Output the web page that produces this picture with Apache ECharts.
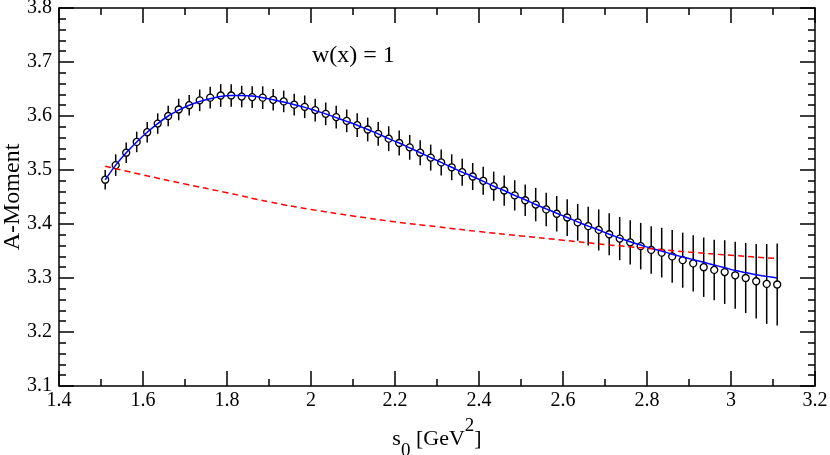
<!DOCTYPE html>
<html>
<head>
<meta charset="utf-8">
<script src="https://cdn.jsdelivr.net/npm/echarts@6/dist/echarts.min.js"></script>
<style>
  html, body { margin: 0; padding: 0; background: #fff; }
  #main { width: 830px; height: 455px; }
</style>
</head>
<body>
<div id="main"></div>
<script>
// s0 values of the data points
var sVals = [1.51, 1.535, 1.56, 1.585, 1.61, 1.635, 1.66, 1.685, 1.71, 1.735,
    1.76, 1.785, 1.81, 1.835, 1.86, 1.885, 1.91, 1.935, 1.96, 1.985,
    2.01, 2.035, 2.06, 2.085, 2.11, 2.135, 2.16, 2.185, 2.21, 2.235,
    2.26, 2.285, 2.31, 2.335, 2.36, 2.385, 2.41, 2.435, 2.46, 2.485,
    2.51, 2.535, 2.56, 2.585, 2.61, 2.635, 2.66, 2.685, 2.71, 2.735,
    2.76, 2.785, 2.81, 2.835, 2.86, 2.885, 2.91, 2.935, 2.96, 2.985,
    3.01, 3.035, 3.06, 3.085, 3.11];
// A-Moment (circles)
var momentVals = [3.482, 3.509, 3.532, 3.552, 3.570, 3.586, 3.600, 3.612, 3.620, 3.629,
    3.634, 3.638, 3.638, 3.636, 3.635, 3.634, 3.630, 3.627, 3.621, 3.617,
    3.611, 3.604, 3.598, 3.591, 3.583, 3.575, 3.567, 3.558, 3.550, 3.542,
    3.532, 3.523, 3.514, 3.505, 3.496, 3.488, 3.480, 3.470, 3.462, 3.453,
    3.444, 3.436, 3.427, 3.419, 3.412, 3.403, 3.396, 3.389, 3.381, 3.373,
    3.366, 3.359, 3.352, 3.347, 3.340, 3.333, 3.327, 3.320, 3.315, 3.311,
    3.305, 3.300, 3.294, 3.289, 3.288];
// error bar half widths
var errVals = [0.018, 0.020, 0.019, 0.019, 0.019, 0.019, 0.019, 0.020, 0.019, 0.020,
    0.020, 0.021, 0.021, 0.020, 0.020, 0.021, 0.020, 0.020, 0.020, 0.021,
    0.021, 0.021, 0.021, 0.021, 0.022, 0.022, 0.022, 0.023, 0.023, 0.023,
    0.023, 0.024, 0.024, 0.024, 0.025, 0.025, 0.026, 0.027, 0.028, 0.028,
    0.029, 0.031, 0.031, 0.033, 0.034, 0.034, 0.036, 0.038, 0.039, 0.040,
    0.041, 0.043, 0.044, 0.046, 0.049, 0.051, 0.052, 0.055, 0.056, 0.059,
    0.062, 0.065, 0.069, 0.074, 0.076];
// blue curve
var fitVals = [3.482, 3.509, 3.532, 3.552, 3.570, 3.586, 3.600, 3.611, 3.620, 3.627,
    3.632, 3.636, 3.638, 3.638, 3.637, 3.634, 3.630, 3.626, 3.621, 3.616,
    3.610, 3.604, 3.597, 3.590, 3.583, 3.575, 3.567, 3.558, 3.550, 3.541,
    3.532, 3.523, 3.514, 3.505, 3.496, 3.488, 3.479, 3.470, 3.462, 3.453,
    3.445, 3.436, 3.428, 3.420, 3.412, 3.404, 3.396, 3.389, 3.381, 3.374,
    3.367, 3.361, 3.355, 3.350, 3.344, 3.339, 3.334, 3.329, 3.324, 3.319,
    3.314, 3.310, 3.306, 3.303, 3.300];
// red dashed curve
var redS = [1.51, 1.6, 1.7, 1.8, 1.9, 2.0, 2.1, 2.2, 2.3, 2.4, 2.5, 2.6, 2.7, 2.8, 2.9, 3.0, 3.11];
var redVals = [3.507, 3.491, 3.474, 3.458, 3.441, 3.427, 3.415, 3.404, 3.395, 3.386,
    3.378, 3.370, 3.362, 3.355, 3.348, 3.342, 3.336];

var FONT = 'Liberation Serif, Times New Roman, serif';

var pts = [], bars = [], fit = [], red = [];
for (var i = 0; i < sVals.length; i++) {
    pts.push([sVals[i], momentVals[i]]);
    bars.push([sVals[i], momentVals[i], errVals[i]]);
    fit.push([sVals[i], fitVals[i]]);
}
for (var j = 0; j < redS.length; j++) {
    red.push([redS[j], redVals[j]]);
}

function axisBase(min, max, step, minorSplit) {
    return {
        type: 'value',
        min: min,
        max: max,
        interval: step,
        axisLine: { show: true, onZero: false, lineStyle: { color: '#000', width: 1.5 } },
        axisTick: { show: true, inside: true, length: 15, lineStyle: { color: '#000', width: 1.5 } },
        minorTick: { show: true, splitNumber: minorSplit, length: 7, lineStyle: { color: '#000', width: 1.5 } },
        splitLine: { show: false },
        minorSplitLine: { show: false },
        axisLabel: {
            color: '#000', fontFamily: FONT, fontSize: 20,
            formatter: function (v) { return String(+v.toFixed(1)); }
        }
    };
}

var xBottom = axisBase(1.4, 3.2, 0.2, 2);
xBottom.position = 'bottom';
xBottom.axisLabel.margin = 5;
var xTop = axisBase(1.4, 3.2, 0.2, 2);
xTop.position = 'top';
xTop.axisLabel = { show: false };

var yLeft = axisBase(3.1, 3.8, 0.1, 5);
yLeft.position = 'left';
yLeft.axisLabel.margin = 7;
var yRight = axisBase(3.1, 3.8, 0.1, 5);
yRight.position = 'right';
yRight.axisLabel = { show: false };

var myChart = echarts.init(document.getElementById('main'));
var option = {
    animation: false,
    backgroundColor: '#fff',
    grid: { left: 59, right: 15, top: 8, bottom: 69, containLabel: false, outerBoundsMode: 'none' },
    xAxis: [xBottom, xTop],
    yAxis: [yLeft, yRight],
    graphic: [
        {
            type: 'text',
            left: 312,
            top: 44,
            style: { text: 'w(x) = 1', fontFamily: FONT, fontSize: 24, fill: '#000' }
        },
        {
            // y axis title
            type: 'text',
            x: 13,
            y: 197,
            rotation: Math.PI / 2,
            style: {
                text: 'A-Moment', fontFamily: FONT, fontSize: 24, fill: '#000',
                align: 'center', verticalAlign: 'middle'
            }
        },
        {
            // x axis title
            type: 'text',
            x: 437,
            y: 439,
            style: {
                text: '{m|s}{sub|0}{m| [GeV}{sup|2}{m|]}',
                fontFamily: FONT, fontSize: 22, fill: '#000',
                align: 'center', verticalAlign: 'middle',
                rich: {
                    m: { fontFamily: FONT, fontSize: 22, fill: '#000', lineHeight: 44 },
                    sub: { fontFamily: FONT, fontSize: 19, fill: '#000', lineHeight: 22, verticalAlign: 'bottom' },
                    sup: { fontFamily: FONT, fontSize: 19, fill: '#000', lineHeight: 10, verticalAlign: 'top' }
                }
            }
        }
    ],
    series: [
        {
            name: 'err',
            type: 'custom',
            xAxisIndex: 0,
            yAxisIndex: 0,
            data: bars,
            z: 2,
            renderItem: function (params, api) {
                var x = api.value(0), y = api.value(1), e = api.value(2);
                var p1 = api.coord([x, y + e]);
                var p2 = api.coord([x, y - e]);
                return {
                    type: 'line',
                    shape: { x1: p1[0], y1: p1[1], x2: p2[0], y2: p2[1] },
                    style: { stroke: '#000', lineWidth: 1.5 }
                };
            }
        },
        {
            name: 'moment',
            type: 'scatter',
            data: pts,
            symbol: 'circle',
            symbolSize: 7,
            z: 3,
            itemStyle: { color: '#fff', borderColor: '#000', borderWidth: 1.3, opacity: 1 }
        },
        {
            name: 'fit',
            type: 'line',
            data: fit,
            showSymbol: false,
            smooth: 0.3,
            z: 4,
            lineStyle: { color: '#0000ff', width: 1.5 }
        },
        {
            name: 'red',
            type: 'line',
            data: red,
            showSymbol: false,
            smooth: true,
            z: 5,
            lineStyle: { color: '#ff0000', width: 1.5, type: [6, 4] }
        }
    ]
};
myChart.setOption(option);
</script>
</body>
</html>
